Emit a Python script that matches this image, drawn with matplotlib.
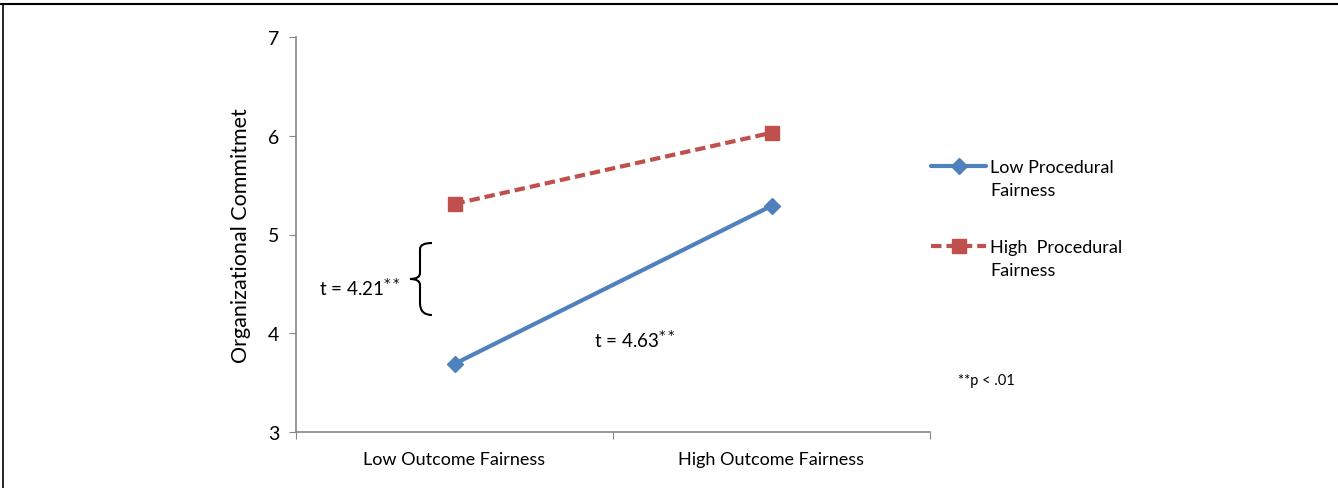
import matplotlib.pyplot as plt
from matplotlib.path import Path
from matplotlib.patches import PathPatch
from matplotlib.lines import Line2D

plt.rcParams['font.family'] = ['Lato', 'DejaVu Sans']

# Data
categories = ["Low Outcome Fairness", "High Outcome Fairness"]
low_proc = [3.69, 5.29]
high_proc = [5.31, 6.03]
series_names = ["Low Procedural\nFairness", "High  Procedural\nFairness"]
yticks = [3, 4, 5, 6, 7]

blue = "#4F81BD"
red = "#C0504D"
grey = "#868686"

fig = plt.figure(figsize=(13.38, 4.89), dpi=100)
ax = fig.add_axes([296 / 1338, 1 - 433 / 489, 634 / 1338, 395 / 489])

xpos = [0.5, 1.5]
low_style = dict(color=blue, lw=3, marker="D", ms=8, solid_capstyle="round")
high_style = dict(color=red, lw=3, ls=(0, (2.5, 1.2)), marker="s", ms=10)
ax.plot(xpos, low_proc, **low_style)
ax.plot(xpos, high_proc, **high_style)

ax.set_xlim(0, 2)
ax.set_ylim(3, 7)
ax.set_xticks([0, 1, 2])
ax.set_xticklabels([])
ax.set_xticks(xpos, minor=True)
ax.set_xticklabels(categories, minor=True, fontsize=13)
ax.tick_params(axis="x", which="minor", length=0, pad=14)
ax.tick_params(axis="x", which="major", length=5, color=grey, direction="out")
ax.set_yticks(yticks)
ax.tick_params(axis="y", labelsize=14, length=5, color=grey, pad=7)
for side in ["top", "right"]:
    ax.spines[side].set_visible(False)
for side in ["left", "bottom"]:
    ax.spines[side].set_color(grey)
    ax.spines[side].set_linewidth(1.2)
ax.set_ylabel("Organizational Commitmet", fontsize=15.5, labelpad=12)


def fx(px):
    return px / 1338


def fy(py):
    return 1 - py / 489


# Annotations
fig.text(fx(319), fy(288), r"t = 4.21$^{**}$", fontsize=13.5, va="center")
fig.text(fx(594), fy(340), r"t = 4.63$^{**}$", fontsize=13.5, va="center")
fig.text(fx(958), fy(381), "**p < .01", fontsize=10.5, va="center")

# Brace
verts = [(fx(432), fy(244)), (fx(420), fy(244)), (fx(420), fy(250)), (fx(420), fy(256)),
         (fx(420), fy(274)), (fx(420), fy(280)), (fx(410), fy(280)),
         (fx(420), fy(280)), (fx(420), fy(286)),
         (fx(420), fy(304)), (fx(420), fy(316)), (fx(432), fy(316))]
codes = [Path.MOVETO, Path.CURVE3, Path.CURVE3, Path.LINETO,
         Path.LINETO, Path.CURVE3, Path.CURVE3,
         Path.CURVE3, Path.CURVE3,
         Path.LINETO, Path.CURVE3, Path.CURVE3]
brace = PathPatch(Path(verts, codes), transform=fig.transFigure, fill=False,
                  lw=1.5, color="black")
fig.patches.append(brace)

# Legend (handle aligned with first text line, as in Excel)
for name, style, ypx in [(series_names[0], low_style, 167), (series_names[1], high_style, 247)]:
    line_style = dict(style)
    line_style["marker"] = "None"
    fig.add_artist(Line2D([fx(931), fx(986)], [fy(ypx), fy(ypx)], transform=fig.transFigure,
                          **line_style))
    fig.add_artist(Line2D([fx(958.5)], [fy(ypx)], transform=fig.transFigure,
                          color=style["color"], marker=style["marker"], ms=style["ms"], lw=0))
    fig.text(fx(990), fy(ypx - 7), name, fontsize=13, va="top", linespacing=1.55)

# Partial frame (top and left)
fig.add_artist(Line2D([0, 1], [fy(5), fy(5)], transform=fig.transFigure, color="black", lw=1.5))
fig.add_artist(Line2D([fx(3), fx(3)], [0, fy(5)], transform=fig.transFigure, color="black", lw=1.2))

fig.savefig("out.png", dpi=100)
